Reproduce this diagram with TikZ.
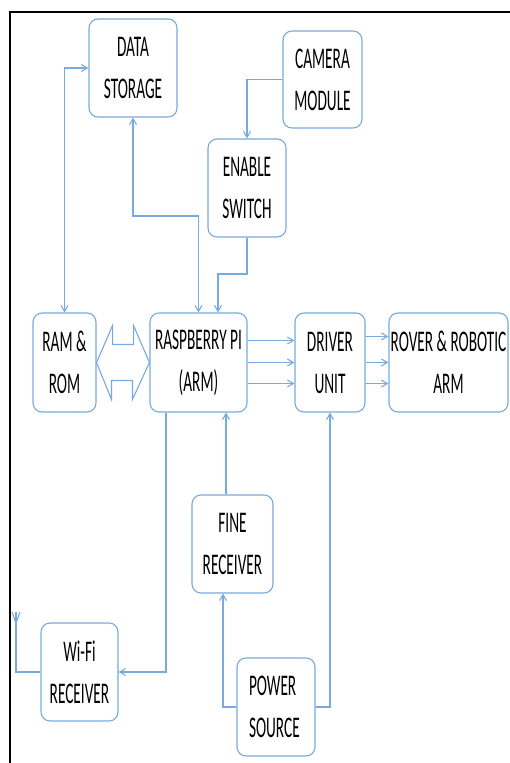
\documentclass[tikz,border=0pt]{standalone}
\usepackage{fontspec}
\setmainfont{Carlito}[FakeStretch=0.51]
\usetikzlibrary{arrows.meta, calc}
\definecolor{cL}{RGB}{120,170,222}

\tikzset{
  block/.style={draw=cL, line width=1.1bp, rounded corners=9bp, fill=white,
    inner sep=0pt, align=center, font=\fontsize{30bp}{42bp}\selectfont},
  link/.style={draw=cL, line width=1.1bp},
}

\begin{document}
\begin{tikzpicture}[x=1bp, y=1bp, >={Straight Barb[length=6bp,width=7bp]}]
    \useasboundingbox (0,0) rectangle (510,763);

    % --- Frame ---
    \draw[line width=2.5bp] (510,751) -- (10,751) -- (10,0);

    % --- Blocks ---
    \node[block, minimum width=88bp, minimum height=98bp] (store) at (133,695) {DATA\\STORAGE};
    \node[block, minimum width=79bp, minimum height=97bp] (camera) at (322.5,683.5) {CAMERA\\MODULE};
    \node[block, minimum width=78bp, minimum height=98bp] (enable) at (247,575) {ENABLE\\SWITCH};
    \node[block, minimum width=63bp, minimum height=99bp] (ramrom) at (64.5,400.5) {RAM \&\\ROM};
    \node[block, minimum width=97bp, minimum height=99bp] (rpi) at (198.5,400.5) {RASPBERRY PI\\(ARM)};
    \node[block, minimum width=70bp, minimum height=99bp] (driver) at (330,400.5) {DRIVER\\UNIT};
    \node[block, minimum width=119bp, minimum height=99bp] (rover) at (448.5,400.5) {ROVER \& ROBOTIC\\ARM};
    \node[block, minimum width=81bp, minimum height=98bp] (fine) at (232.5,219) {FINE\\RECEIVER};
    \node[block, minimum width=77bp, minimum height=98bp] (wifi) at (79.5,91) {Wi-Fi\\RECEIVER};
    \node[block, minimum width=78bp, minimum height=98bp, align=left, text width=54bp] (power) at (276,56) {POWER\\SOURCE};

    % --- Bends ---
    \coordinate (bendA) at (198.5,547);
    \coordinate (bendB) at (218,489);
    \coordinate (ant) at (16,151);

    % --- Connectors ---
    \draw[link, <->] (store.west) -| (ramrom.north);
    \draw[link, <->] (store.south) |- (bendA) -- (rpi.north);
    \draw[link, ->] (camera.west) -| (enable.north);
    \draw[link, ->] (enable.south) |- (bendB) -- (bendB |- rpi.north);

    % RAM & ROM <=> RASPBERRY PI
    \draw[link] (ramrom.east) -- ++(16,37) -- ++(0,-19) -- ++(21,0) -- ++(0,19)
        -- (rpi.west) -- ++(-17,-37) -- ++(0,19) -- ++(-21,0) -- ++(0,-19) -- cycle;

    \foreach \dy in {22,0,-21}
        \draw[link, ->] ([yshift=\dy bp]rpi.east) -- ([yshift=\dy bp]driver.west);
    \foreach \dy in {26,0,-21}
        \draw[link, ->] ([yshift=\dy bp]driver.east) -- ([yshift=\dy bp]rover.west);

    \draw[link, ->] ([xshift=-32.5bp]rpi.south) |- (wifi.east);
    \draw[link, ->] ([xshift=-6.5bp]fine.north) -- ([xshift=-6.5bp]fine.north |- rpi.south);
    \draw[link, ->] (power.west) -| ([xshift=-9.5bp]fine.south);
    \draw[link, ->] (power.east) -| (driver.south);

    % Antenna
    \draw[link] (wifi.west) -| (ant);
    \draw[link] (ant) ++(-4,0) -- ++(4,-11) -- ++(4,11);

\end{tikzpicture}
\end{document}
